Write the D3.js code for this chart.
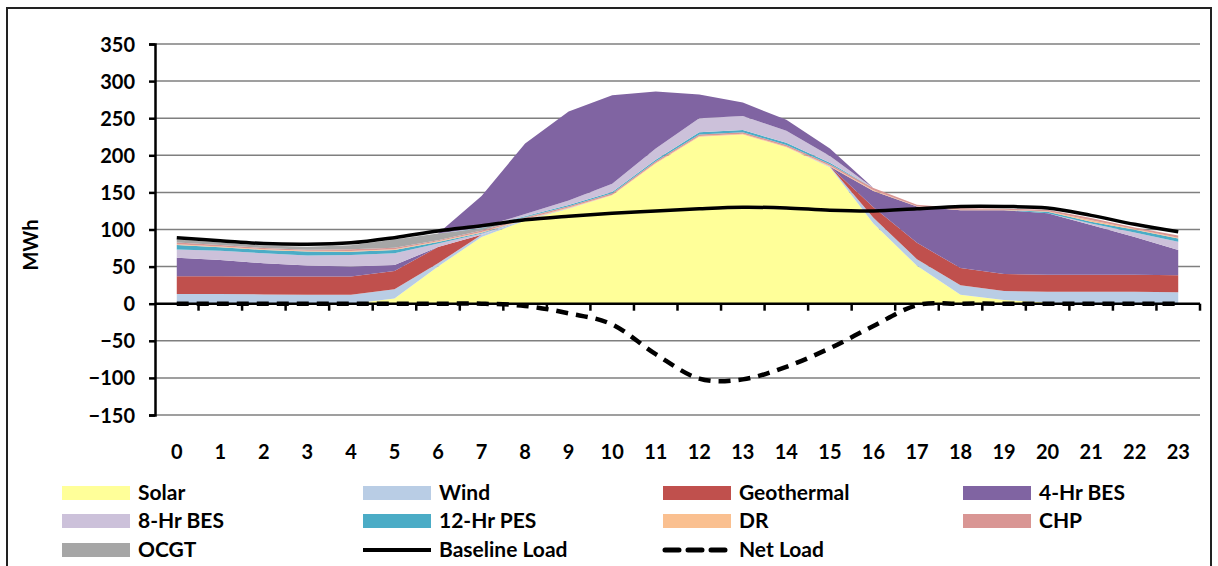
<!DOCTYPE html>
<html>
<head>
<meta charset="utf-8">
<script src="https://cdn.jsdelivr.net/npm/d3@7"></script>
<style>
  html, body { margin: 0; padding: 0; background: #fff; }
  svg { display: block; }
  text { font-family: Lato, "Open Sans", sans-serif; font-weight: bold; fill: #000; }
</style>
</head>
<body>
<svg id="chart" width="1218" height="566"></svg>
<script>
// ---- data (MWh per hour) ----
const hours = [0,1,2,3,4,5,6,7,8,9,10,11,12,13,14,15,16,17,18,19,20,21,22,23];
const yTicks = [-150,-100,-50,0,50,100,150,200,250,300,350];

const solar      = [0,0,0,0,0,7,50,90,112,128,146,189,225,228,211,184,108,51,12,5,1.5,0,0,0];
const wind       = [13,13,12.5,12,12,12.5,4.5,3,1,0.5,0,0,0,0,0,1,8,9,13,12,14.5,16,16,15.4];
const geothermal = [24,24,24,24.5,24.5,24.5,22,0,0,0,0,0,0,0,0,0,14,22,23,23,23,23,23,23];
const bes4       = [25,22,18,15,13.5,8,0,0,0,0,0,0,0,0,0,0,22,49,78,86,83,67,51,34];
const bes8       = [11,12.5,13.5,13.5,15.5,16,4.5,1.5,0,0,0,0,0,0,0,0,0,0,0,0,0,2,6,11];
const pes12      = [6,4.5,4.5,5.3,4.5,4.4,2,1,0,0,0,0,0,0,0,0,0,0,0,0,2,2.5,3.6,4.4];
const dr         = [1,1,1,1,1,1,1,1,1,1,1,1,1,1,1,1,1,0.5,0.5,0.5,0.5,2,1,1];
const chp        = [2.5,2,1.5,1.5,2.3,2,1.5,2,2,2,2,2,2,2,2,2,3,2,2,1.5,2,3,2,3];
const ocgt       = [4,3.5,3.5,4,5.5,11,9,3,1,0,0,0,0,0,0,0,0,0,0,0,0,0,0,0];
// storage charging shown stacked on top
const pes12Charge = [0,0,0,0,0,0,0,0.5,1,1.5,1.5,2,3,3,3,2,0,0,0,0,0,0,0,0];
const bes8Charge  = [0,0,0,0,0,0,0,1,3,6,11,15,19,19,16,9,0,0,0,0,0,0,0,0];
const bes4Charge  = [0,0,0,0,0,0,0,42,95,120,119.5,77,32,18,15,10,0,0,0,0,0,0,0,0];

const baselineLoad = [89,85,81,80,82,89,98,105,113,118,122,125,128,130,129,126,125,128,131,131,129,119,107,97];
const netLoad      = [0,0,0,0,0,0,0,0,-3,-13,-28,-68,-101,-102,-85,-60,-30,-2,0,0,0,0,0,0];

const seriesNames  = ["Solar","Wind","Geothermal","4-Hr BES","8-Hr BES","12-Hr PES","DR","CHP","OCGT"];
const seriesColors = ["#FFFF99","#B9CDE5","#C0504D","#8064A2","#CCC1DA","#4BACC6","#FAC090","#D99694","#A6A6A6"];

// ---- build table ----
const keys = ["solar","wind","geothermal","bes4","bes8","pes12","dr","chp","ocgt","pes12Charge","bes8Charge","bes4Charge"];
const cols = {solar, wind, geothermal, bes4, bes8, pes12, dr, chp, ocgt, pes12Charge, bes8Charge, bes4Charge};
const keyColor = {
  solar: seriesColors[0], wind: seriesColors[1], geothermal: seriesColors[2],
  bes4: seriesColors[3], bes8: seriesColors[4], pes12: seriesColors[5],
  dr: seriesColors[6], chp: seriesColors[7], ocgt: seriesColors[8],
  pes12Charge: seriesColors[5], bes8Charge: seriesColors[4], bes4Charge: seriesColors[3]
};
const table = hours.map((h, i) => {
  const row = {hour: h};
  keys.forEach(k => row[k] = cols[k][i]);
  return row;
});

// ---- layout ----
const svg = d3.select("#chart");
const plot = {left: 155, right: 1200, top: 44, bottom: 415};

const x = d3.scaleBand().domain(hours).range([plot.left, plot.right]);
const cx = h => x(h) + x.bandwidth() / 2;
const y = d3.scaleLinear().domain([-150, 350]).range([plot.bottom, plot.top]);

// outer frame
svg.append("path")
  .attr("d", `M7,580 L7,8 L1211,8 L1211,580`)
  .attr("fill", "none").attr("stroke", "#222").attr("stroke-width", 2);

// gridlines
svg.append("g").selectAll("line").data(yTicks.filter(d => d !== 0)).join("line")
  .attr("x1", plot.left).attr("x2", plot.right)
  .attr("y1", d => y(d)).attr("y2", d => y(d))
  .attr("stroke", "#7f7f7f").attr("stroke-width", 1.5);

// stacked areas
const stack = d3.stack().keys(keys);
const layers = stack(table);
const area = d3.area()
  .x(d => cx(d.data.hour))
  .y0(d => y(d[0]))
  .y1(d => y(d[1]));
svg.append("g").selectAll("path").data(layers).join("path")
  .attr("d", area)
  .attr("fill", d => keyColor[d.key]);

// y axis
const yAxis = d3.axisLeft(y).tickValues(yTicks).tickSize(6).tickPadding(14);
const gy = svg.append("g").attr("transform", `translate(${plot.left},0)`).call(yAxis);
gy.select(".domain").attr("stroke", "#000").attr("stroke-width", 2.5);
gy.selectAll(".tick line").attr("stroke", "#000").attr("stroke-width", 2.5);
gy.selectAll(".tick text").style("font-size", "20px").attr("dy", "0.35em");

// x axis at zero
const gx = svg.append("g");
gx.append("line").attr("x1", plot.left).attr("x2", plot.right)
  .attr("y1", y(0)).attr("y2", y(0)).attr("stroke", "#000").attr("stroke-width", 2.5);
gx.selectAll("line.tk").data(hours).join("line").attr("class", "tk")
  .attr("x1", d => x(d) + x.bandwidth()).attr("x2", d => x(d) + x.bandwidth())
  .attr("y1", y(0)).attr("y2", y(0) + 7)
  .attr("stroke", "#000").attr("stroke-width", 2.5);
const xAxis = d3.axisBottom(x).tickSize(0).tickPadding(0);
const gxl = svg.append("g").attr("transform", `translate(0,${plot.bottom + 30})`).call(xAxis);
gxl.select(".domain").remove();
gxl.selectAll(".tick text").style("font-size", "20px");

// y title
svg.append("text").attr("transform", "translate(38,245) rotate(-90)")
  .attr("text-anchor", "middle").style("font-size", "20px").text("MWh");

// lines
const smooth = d3.curveCardinal.tension(0);
const baseLine = d3.line().x((d, i) => cx(hours[i])).y(d => y(d)).curve(smooth);
svg.append("path").datum(baselineLoad).attr("d", baseLine)
  .attr("fill", "none").attr("stroke", "#000").attr("stroke-width", 3.5);
svg.append("path").datum(netLoad).attr("d", baseLine)
  .attr("fill", "none").attr("stroke", "#000").attr("stroke-width", 4.5)
  .attr("stroke-dasharray", "12,8");

// legend
const legendItems = [
  {name: seriesNames[0], color: seriesColors[0], type: "box"},
  {name: seriesNames[1], color: seriesColors[1], type: "box"},
  {name: seriesNames[2], color: seriesColors[2], type: "box"},
  {name: seriesNames[3], color: seriesColors[3], type: "box"},
  {name: seriesNames[4], color: seriesColors[4], type: "box"},
  {name: seriesNames[5], color: seriesColors[5], type: "box"},
  {name: seriesNames[6], color: seriesColors[6], type: "box"},
  {name: seriesNames[7], color: seriesColors[7], type: "box"},
  {name: seriesNames[8], color: seriesColors[8], type: "box"},
  {name: "Baseline Load", color: "#000", type: "line"},
  {name: "Net Load", color: "#000", type: "dash"}
];
const colX = [62, 363, 663, 963];
const rowY = [493, 521, 550];
const lg = svg.append("g").selectAll("g").data(legendItems).join("g")
  .attr("transform", (d, i) => `translate(${colX[i % 4]},${rowY[Math.floor(i / 4)]})`);
lg.filter(d => d.type === "box").append("rect")
  .attr("x", 0).attr("y", -7).attr("width", 68).attr("height", 14).attr("fill", d => d.color);
lg.filter(d => d.type === "line").append("line")
  .attr("x1", 0).attr("x2", 68).attr("y1", 0).attr("y2", 0)
  .attr("stroke", "#000").attr("stroke-width", 4);
lg.filter(d => d.type === "dash").append("line")
  .attr("x1", 2).attr("x2", 68).attr("y1", 0).attr("y2", 0)
  .attr("stroke", "#000").attr("stroke-width", 5).attr("stroke-dasharray", "14,9").attr("stroke-linecap", "round");
lg.append("text").attr("x", 76).attr("y", 0).attr("dy", "0.35em")
  .style("font-size", "21px").text(d => d.name);
</script>
</body>
</html>
